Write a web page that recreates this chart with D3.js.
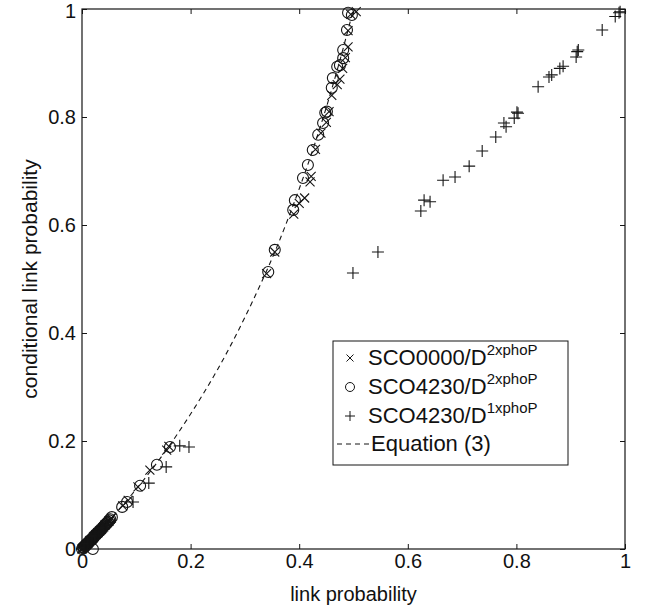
<!DOCTYPE html>
<html><head><meta charset="utf-8">
<script src="https://cdn.jsdelivr.net/npm/d3@7"></script>
<style>
body{margin:0;background:#fff}
svg{display:block}
text{font-family:"Liberation Sans",Arial,Helvetica,sans-serif;fill:#111}
</style>
</head><body>
<svg id="c" width="645" height="611"></svg>
<script>
// ---------- data ----------
const xTickValues = [0, 0.2, 0.4, 0.6, 0.8, 1];
const yTickValues = [0, 0.2, 0.4, 0.6, 0.8, 1];
const tickLabels = ["0", "0.2", "0.4", "0.6", "0.8", "1"];
const xLabel = "link probability";
const yLabel = "conditional link probability";

// x  SCO0000/D2xphoP
const sco0000D2 = [
  [0.0,0.0],[0.001,0.001],[0.002,0.002],[0.003,0.003],[0.004,0.004],[0.005,0.005],[0.006,0.006],
  [0.007,0.007],[0.008,0.008],[0.009,0.009],[0.01,0.01],[0.011,0.011],[0.012,0.012],[0.013,0.013],
  [0.014,0.015],[0.015,0.016],[0.016,0.016],[0.017,0.017],[0.018,0.018],[0.019,0.019],[0.02,0.02],
  [0.021,0.022],[0.022,0.023],[0.023,0.024],[0.025,0.026],[0.026,0.027],[0.028,0.029],[0.029,0.03],
  [0.03,0.031],[0.032,0.033],[0.033,0.034],[0.035,0.036],[0.036,0.037],[0.038,0.039],[0.04,0.041],
  [0.042,0.044],[0.043,0.045],[0.045,0.047],[0.047,0.049],[0.049,0.051],[0.05,0.052],[0.052,0.055],
  [0.054,0.057],[0.075,0.08],[0.085,0.09],[0.103,0.115],[0.125,0.146],[0.156,0.183],[0.16,0.19],
  [0.34,0.51],[0.355,0.55],[0.39,0.62],[0.40,0.64],[0.41,0.65],[0.42,0.68],[0.422,0.69],[0.43,0.74],
  [0.44,0.77],[0.45,0.79],[0.455,0.81],[0.46,0.84],[0.47,0.86],[0.475,0.87],[0.48,0.89],[0.485,0.91],
  [0.49,0.93],[0.49,0.96],[0.495,0.99],[0.505,0.995]
];
// o  SCO4230/D2xphoP
const sco4230D2 = [
  [0.0,0.0],[0.002,0.002],[0.003,0.003],[0.005,0.005],[0.006,0.006],[0.008,0.008],[0.009,0.009],
  [0.011,0.011],[0.012,0.012],[0.014,0.014],[0.015,0.015],[0.017,0.017],[0.018,0.018],[0.02,0.02],
  [0.021,0.021],[0.02,0.0],[0.023,0.024],[0.024,0.025],[0.026,0.027],[0.027,0.028],[0.029,0.03],
  [0.03,0.031],[0.032,0.033],[0.034,0.035],[0.036,0.037],[0.038,0.039],[0.04,0.042],[0.042,0.044],
  [0.044,0.046],[0.046,0.048],[0.048,0.05],[0.05,0.053],[0.052,0.055],[0.055,0.059],[0.074,0.078],
  [0.083,0.087],[0.107,0.117],[0.138,0.156],[0.162,0.189],[0.343,0.513],[0.355,0.554],[0.389,0.628],
  [0.392,0.646],[0.407,0.687],[0.416,0.711],[0.425,0.739],[0.435,0.767],[0.444,0.789],[0.448,0.808],
  [0.451,0.81],[0.46,0.854],[0.462,0.872],[0.47,0.893],[0.475,0.896],[0.481,0.909],[0.481,0.924],
  [0.488,0.961],[0.49,0.993],[0.497,0.989]
];
// +  SCO4230/D1xphoP
const sco4230D1 = [
  [0.0,0.0],[0.003,0.003],[0.005,0.005],[0.008,0.008],[0.01,0.01],[0.013,0.013],[0.015,0.015],
  [0.018,0.018],[0.02,0.02],[0.023,0.023],[0.025,0.025],[0.028,0.028],[0.03,0.03],[0.033,0.033],
  [0.035,0.035],[0.038,0.038],[0.04,0.04],[0.043,0.043],[0.045,0.045],[0.05,0.05],[0.094,0.087],
  [0.123,0.122],[0.155,0.152],[0.18,0.191],[0.197,0.189],[0.499,0.511],[0.545,0.55],[0.624,0.626],
  [0.63,0.646],[0.641,0.643],[0.665,0.683],[0.687,0.689],[0.713,0.709],[0.737,0.737],[0.762,0.763],
  [0.777,0.789],[0.781,0.782],[0.796,0.798],[0.803,0.807],[0.801,0.809],[0.84,0.856],[0.86,0.874],
  [0.865,0.878],[0.88,0.89],[0.886,0.894],[0.91,0.911],[0.912,0.921],[0.914,0.924],[0.958,0.961],
  [0.982,0.986],[0.989,0.993],[0.991,0.995]
];
// dashed curve "Equation (3)"
const equationCurve = [
  [0,0],[0.05,0.053],[0.1,0.111],[0.15,0.176],[0.2,0.25],[0.25,0.333],[0.3,0.429],[0.35,0.538],
  [0.375,0.6],[0.4,0.667],[0.425,0.739],[0.45,0.818],[0.475,0.905],[0.5,1.0]
];
const legendNames = ["SCO0000/D", "SCO4230/D", "SCO4230/D", "Equation (3)"];
const legendSups = ["2xphoP", "2xphoP", "1xphoP", ""];

// ---------- layout ----------
const L = 82, R = 625, T = 9, B = 549;
const svg = d3.select("#c");
const x = d3.scaleLinear().domain([0, 1]).range([L, R]);
const y = d3.scaleLinear().domain([0, 1]).range([B, T]);
const ink = "#151515";
const fs = 20;

// axes
const fmt = (d, i) => tickLabels[i];
svg.append("g").attr("transform", `translate(0,${B})`)
  .call(d3.axisBottom(x).tickValues(xTickValues).tickFormat(fmt).tickSize(-5).tickPadding(5))
  .call(g => g.select(".domain").remove());
svg.append("g").attr("class", "yax").attr("transform", `translate(${L},0)`)
  .call(d3.axisLeft(y).tickValues(yTickValues).tickFormat(fmt).tickSize(-5).tickPadding(6))
  .call(g => g.select(".domain").remove());
svg.append("g").attr("transform", `translate(0,${T})`)
  .call(d3.axisTop(x).tickValues(xTickValues).tickFormat("").tickSize(-5))
  .call(g => g.select(".domain").remove());
svg.append("g").attr("transform", `translate(${R},0)`)
  .call(d3.axisRight(y).tickValues(yTickValues).tickFormat("").tickSize(-5))
  .call(g => g.select(".domain").remove());
svg.selectAll(".tick line").attr("stroke", ink);
svg.selectAll(".tick text").attr("font-size", fs).attr("font-family", '"Liberation Sans",Arial,sans-serif').attr("fill", "#111");
// keep the top label inside the picture
svg.selectAll(".yax .tick text").filter(d => d === 1).attr("dy", "0.42em");

svg.append("rect").attr("x", L).attr("y", T).attr("width", R - L).attr("height", B - T)
  .attr("fill", "none").attr("stroke", ink).attr("stroke-width", 1.2);

// axis labels
svg.append("text").attr("x", (L + R) / 2).attr("y", 601).attr("text-anchor", "middle")
  .attr("font-size", fs).text(xLabel);
svg.append("text").attr("transform", `translate(37,${(T + B) / 2}) rotate(-90)`)
  .attr("text-anchor", "middle").attr("font-size", 21).text(yLabel);

// marker helpers
const crossPath = s => `M${-s},${-s}L${s},${s}M${-s},${s}L${s},${-s}`;
const plusPath = s => `M${-s},0L${s},0M0,${-s}L0,${s}`;

// curve
svg.append("path").datum(equationCurve)
  .attr("d", d3.line().x(d => x(d[0])).y(d => y(d[1])).curve(d3.curveCatmullRom))
  .attr("fill", "none").attr("stroke", ink).attr("stroke-width", 1.1).attr("stroke-dasharray", "5,4");

// series
const gm = svg.append("g").attr("fill", "none").attr("stroke", ink).attr("stroke-width", 1.1);
gm.selectAll("path.cr").data(sco0000D2).join("path").attr("class", "cr")
  .attr("transform", d => `translate(${x(d[0])},${y(d[1])})`).attr("d", crossPath(4.5));
gm.selectAll("circle").data(sco4230D2).join("circle")
  .attr("cx", d => x(d[0])).attr("cy", d => y(d[1])).attr("r", 5.5);
gm.selectAll("path.pl").data(sco4230D1).join("path").attr("class", "pl")
  .attr("transform", d => `translate(${x(d[0])},${y(d[1])})`).attr("d", plusPath(6));

// legend
const lg = svg.append("g");
lg.append("rect").attr("x", 333).attr("y", 341).attr("width", 235).attr("height", 124)
  .attr("fill", "#fff").attr("stroke", ink).attr("stroke-width", 1);
const rowY = [365, 394, 423, 451];
const mk = lg.append("g").attr("fill", "none").attr("stroke", ink).attr("stroke-width", 1);
mk.append("path").attr("transform", `translate(350,${rowY[0] - 7})`).attr("d", crossPath(3.5));
mk.append("circle").attr("cx", 350).attr("cy", rowY[1] - 7).attr("r", 4.5);
mk.append("path").attr("transform", `translate(350,${rowY[2] - 7})`).attr("d", plusPath(5));
mk.append("line").attr("x1", 337).attr("x2", 370).attr("y1", rowY[3] - 7).attr("y2", rowY[3] - 7)
  .attr("stroke-dasharray", "5,4");
legendNames.forEach((n, i) => {
  const t = lg.append("text").attr("x", i < 3 ? 368 : 371).attr("y", rowY[i]).attr("font-size", 22);
  t.append("tspan").text(n);
  if (legendSups[i]) t.append("tspan").attr("dy", -10).attr("font-size", 15).text(legendSups[i]);
});
</script>
</body></html>
